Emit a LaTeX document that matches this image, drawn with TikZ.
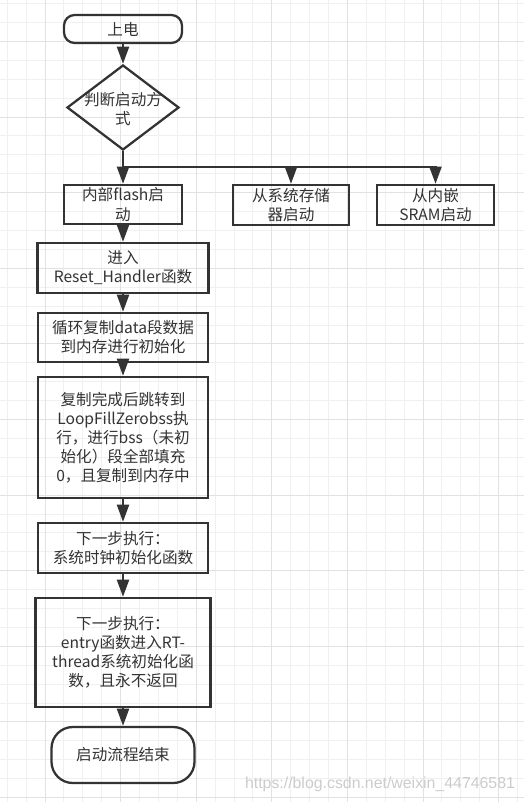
\documentclass[tikz,border=0pt]{standalone}
\usepackage{fontspec}
\setmainfont{Noto Sans CJK SC}
\newfontfamily\markfont{Liberation Sans}
\usetikzlibrary{arrows.meta,shapes.geometric}
\definecolor{inkgray}{HTML}{333333}
\definecolor{minorgrid}{HTML}{F0F0F0}
\definecolor{majorgrid}{HTML}{E2E2E2}
\tikzset{
  box/.style={draw=inkgray, line width=1.7pt, align=center, inner sep=0pt, text=inkgray,
    font=\fontsize{11.7}{14.3}\selectfont},
  terminal/.style={box, rounded corners=8pt},
  decision/.style={draw=inkgray, line width=1.7pt, diamond, inner sep=0pt,
    minimum width=84pt, minimum height=63.75pt},
  arrow/.style={draw=inkgray, line width=1.9pt, -{Triangle[length=13pt,width=9pt]}},
}
\begin{document}
\begin{tikzpicture}[x=0.75pt,y=-0.75pt]
  % background and grid
  \fill[white] (0,0) rectangle (524,802);
  \useasboundingbox (0,0) rectangle (524,802);
  \foreach \x in {7.2,26.1,...,524}
    \draw[minorgrid, line width=0.75pt] (\x,0) -- (\x,802);
  \foreach \y in {3.7,22.6,...,802}
    \draw[minorgrid, line width=0.75pt] (0,\y) -- (524,\y);
  \foreach \x in {45,120.6,...,524}
    \draw[majorgrid, line width=0.75pt] (\x,0) -- (\x,802);
  \foreach \y in {41.5,117.1,...,802}
    \draw[majorgrid, line width=0.75pt] (0,\y) -- (524,\y);

  % nodes
  \node[terminal, minimum width=88.5pt, minimum height=21pt] (start) at (123,29) {上电};
  \node[decision] (judge) at (123,107.5) {};
  \node[align=center, text=inkgray, inner sep=0pt, font=\fontsize{11.7}{14.3}\selectfont]
    (judgetxt) at (123,109) {判断启动方\\式};
  \coordinate (split) at (123,167);
  \node[box, minimum width=88.5pt, minimum height=29.25pt] (flash) at (123,204.5) {内部flash启\\动};
  \node[box, minimum width=87pt, minimum height=30pt] (sysmem) at (291,205) {从系统存储\\器启动};
  \node[box, minimum width=87.75pt, minimum height=30pt] (sram) at (435.5,205) {从内嵌\\SRAM启动};
  \node[box, minimum width=128.25pt, minimum height=37.5pt] (reset) at (123,268) {进入\\Reset\_Handler函数};
  \node[box, minimum width=127.5pt, minimum height=36.75pt] (loop) at (123,337.5) {循环复制data段数据\\到内存进行初始化};
  \node[box, minimum width=127.5pt, minimum height=90.75pt] (fill) at (123,437.5)
    {复制完成后跳转到\\LoopFillZerobss执\\行，进行bss（未初\\始化）段全部填充\\0，且复制到内存中};
  \node[box, minimum width=127.5pt, minimum height=37.5pt] (clock) at (123,548) {下一步执行：\\系统时钟初始化函数};
  \node[box, minimum width=131.25pt, minimum height=81.75pt] (entry) at (123,652.5)
    {下一步执行：\\entry函数进入RT-\\thread系统初始化函\\数，且永不返回};
  \node[terminal, rounded corners=16pt, minimum width=107.25pt, minimum height=42pt] (endnode) at (123,755) {启动流程结束};

  % connectors
  \draw[arrow] (start) -- (judge);
  \draw[draw=inkgray, line width=1.9pt] (judge) -- (split);
  \draw[arrow] (split) -- (flash);
  \draw[arrow] (split) -| (sysmem);
  \draw[arrow] (split) -| (sram);
  \draw[arrow] (flash) -- (reset);
  \draw[arrow] (reset) -- (loop);
  \draw[arrow] (loop) -- (fill);
  \draw[arrow] (fill) -- (clock);
  \draw[arrow] (clock) -- (entry);
  \draw[arrow] (entry) -- (endnode);

  % watermark
  \node[text=gray!40, font=\markfont\fontsize{11.9}{14}\selectfont] (mark) at (380,784)
    {https://blog.csdn.net/weixin\_44746581};
\end{tikzpicture}
\end{document}
